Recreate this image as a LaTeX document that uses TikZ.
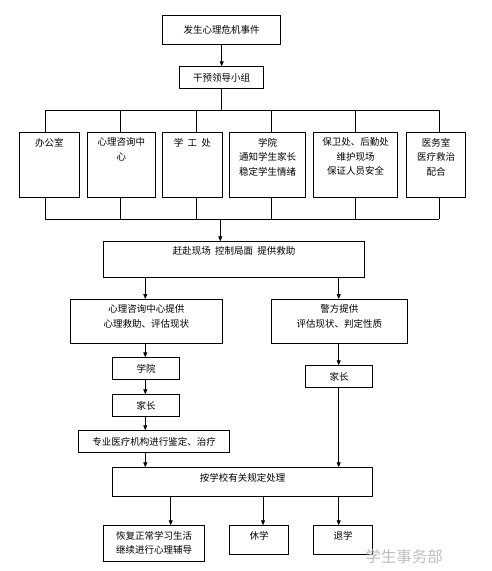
\documentclass[tikz,border=0pt]{standalone}
\usepackage{fontspec}
\setmainfont{Noto Sans CJK SC}
\usetikzlibrary{arrows.meta}
\begin{document}
\begin{tikzpicture}[x=1pt,y=-1pt,
  box/.style={draw, line width=0.8pt, inner sep=0pt, anchor=north west, font=\fontsize{9.5}{14.5}\selectfont, align=center},
  txt/.style={font=\fontsize{9.5}{14.5}\selectfont, align=center, inner sep=0pt, anchor=north, yshift=-5.5pt},
  arr/.style={-{Triangle[length=5pt,width=4pt]}, line width=0.8pt},
  ln/.style={line width=0.8pt}]
\useasboundingbox (0,0) rectangle (491,571);

% top
\node[box, minimum width=118pt, minimum height=28.7pt] (n1) at (162.3,15.3) {发生心理危机事件};
\node[box, minimum width=84pt, minimum height=22pt] (n2) at (179.3,66.3) {干预领导小组};
\draw[arr] (n1.south) -- (n2.north);

% six boxes
\node[box, minimum width=59.4pt, minimum height=65pt, label={[txt]north:办公室}] (b1) at (19.3,132.3) {};
\node[box, minimum width=67.4pt, minimum height=65pt, label={[txt]north:心理咨询中\\心}] (b2) at (87.3,132.3) {};
\node[box, minimum width=59.4pt, minimum height=65pt, label={[txt]north:学\ \ 工\ \ 处}] (b3) at (162.3,132.3) {};
\node[box, minimum width=76pt, minimum height=65pt, label={[txt]north:学院\\通知学生家长\\稳定学生情绪}] (b4) at (229.3,132.3) {};
\node[box, minimum width=84pt, minimum height=65pt, label={[txt]north:保卫处、后勤处\\维护现场\\保证人员安全}] (b5) at (313.3,132.3) {};
\node[box, minimum width=59pt, minimum height=65pt, label={[txt]north:医务室\\医疗救治\\配合}] (b6) at (406.3,132.3) {};

% top bus
\coordinate (u1) at (45.3,110.3);
\coordinate (u2) at (120.3,110.3);
\coordinate (u3) at (196.3,110.3);
\coordinate (u4) at (271.3,110.3);
\coordinate (u5) at (355.3,110.3);
\coordinate (u6) at (439.3,110.3);
\draw[ln] (n2.south) -- (n2.south |- u1);
\draw[ln] (u1) -- (u6);
\draw[ln] (u1) -- (u1 |- b1.north);
\draw[ln] (u2) -- (u2 |- b2.north);
\draw[ln] (u3) -- (u3 |- b3.north);
\draw[ln] (u4) -- (u4 |- b4.north);
\draw[ln] (u5) -- (u5 |- b5.north);
\draw[ln] (u6) -- (u6 |- b6.north);

% bottom bus
\coordinate (d1) at (45.3,219);
\coordinate (d2) at (120.3,219);
\coordinate (d3) at (196.3,219);
\coordinate (d4) at (271.3,219);
\coordinate (d5) at (355.3,219);
\coordinate (d6) at (439.3,219);
\coordinate (dc) at (220.3,219);
\draw[ln] (d1) -- (d6);
\draw[ln] (d1 |- b1.south) -- (d1);
\draw[ln] (d2 |- b2.south) -- (d2);
\draw[ln] (d3 |- b3.south) -- (d3);
\draw[ln] (d4 |- b4.south) -- (d4);
\draw[ln] (d5 |- b5.south) -- (d5);
\draw[ln] (d6 |- b6.south) -- (d6);

\node[box, minimum width=261pt, minimum height=36pt, label={[txt]north:赶赴现场\ \ 控制局面\ \ 提供救助}] (n3) at (103.3,241.3) {};
\draw[arr] (dc) -- (dc |- n3.north);

% left branch
\coordinate (xl) at (145.3,0);
\coordinate (xr) at (338.7,0);
\node[box, minimum width=151.4pt, minimum height=44.3pt, label={[txt]north:心理咨询中心提供\\心理救助、评估现状}] (n4) at (70.3,299) {};
\node[box, minimum width=135.4pt, minimum height=44.3pt, label={[txt]north:警方提供\\评估现状、判定性质}] (r4) at (271.3,299) {};
\draw[arr] (xl |- n3.south) -- (xl |- n4.north);
\draw[arr] (xr |- n3.south) -- (xr |- r4.north);

\node[box, minimum width=67pt, minimum height=22pt] (n5) at (112.3,357.3) {学院};
\node[box, minimum width=67pt, minimum height=22pt] (n6) at (112.3,394.3) {家长};
\node[box, minimum width=151pt, minimum height=22pt] (n7) at (78.3,430.3) {专业医疗机构进行鉴定、治疗};
\draw[arr] (xl |- n4.south) -- (xl |- n5.north);
\draw[arr] (xl |- n5.south) -- (xl |- n6.north);
\draw[arr] (xl |- n6.south) -- (xl |- n7.north);

\node[box, minimum width=67pt, minimum height=22pt] (r5) at (305.3,365.3) {家长};
\draw[arr] (xr |- r4.south) -- (xr |- r5.north);

\node[box, minimum width=260pt, minimum height=28.7pt, label={[txt, yshift=-0.5pt]north:按学校有关规定处理}] (n8) at (112.3,467.3) {};
\draw[arr] (xl |- n7.south) -- (xl |- n8.north);
\draw[arr] (xr |- r5.south) -- (xr |- n8.north);

\node[box, minimum width=100.7pt, minimum height=35.7pt, label={[txt]north:恢复正常学习生活\\继续进行心理辅导}] (n9) at (103.3,525.3) {};
\node[box, minimum width=59pt, minimum height=29pt, label={[txt]north:休学}] (n10) at (229.3,525.3) {};
\node[box, minimum width=59pt, minimum height=29pt, label={[txt]north:退学}] (n11) at (313.3,525.3) {};
\coordinate (x9) at (170.7,0);
\coordinate (x10) at (263,0);
\draw[arr] (x9 |- n8.south) -- (x9 |- n9.north);
\draw[arr] (x10 |- n8.south) -- (x10 |- n10.north);
\draw[arr] (xr |- n8.south) -- (xr |- n11.north);

\node[text=black!25, font=\fontsize{15.5}{16}\selectfont, inner sep=0pt] (wm) at (404,557) {学生事务部};
\end{tikzpicture}
\end{document}
